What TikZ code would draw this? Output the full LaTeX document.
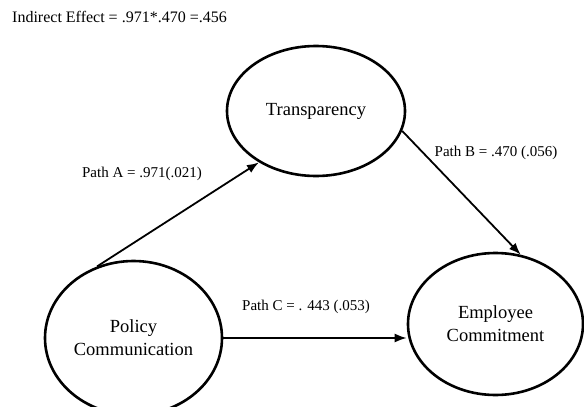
\documentclass[tikz,border=0pt]{standalone}
\usepackage{fontspec}
\setmainfont{Liberation Serif}
\usetikzlibrary{arrows.meta,shapes.geometric}

\begin{document}
\begin{tikzpicture}[
    x=1pt, y=-1pt,
    latent/.style={ellipse, draw=black, line width=2.6pt, inner sep=0pt,
        align=center, font=\fontsize{18.5}{23}\selectfont},
    coef/.style={inner sep=0pt, font=\fontsize{15}{18}\selectfont},
    effect/.style={-{Latex[length=12pt,width=9pt]}, line width=1.8pt}
    ]
    \useasboundingbox (0,0) rectangle (584,407);
    \node (Indirect) [inner sep=0pt, anchor=west, font=\fontsize{16}{19}\selectfont]
        at (12,17) {Indirect Effect = .971*.470 =.456};
    \node (Transp) [latent, minimum width=178pt, minimum height=130pt]
        at (316,111) {Transparency};
    \node (Policy) [latent, minimum width=177pt, minimum height=154pt]
        at (133.5,338) {Policy\\Communication};
    \node (Commit) [latent, minimum width=175pt, minimum height=142pt]
        at (495.5,324) {Employee\\Commitment};
    % paths
    \draw [effect] (Policy.117) -- (Transp.222);
    \draw [effect] (Transp.-13) -- (Commit.70);
    \draw [effect] (Policy.east) -- (Policy.east -| Commit.west);
    \node (PathA) [coef] at (142,174) {Path A = .971(.021)};
    \node (PathB) [coef] at (496,153) {Path B = .470 (.056)};
    \node (PathC) [coef] at (306,307) {Path C = . 443 (.053)};
\end{tikzpicture}
\end{document}
